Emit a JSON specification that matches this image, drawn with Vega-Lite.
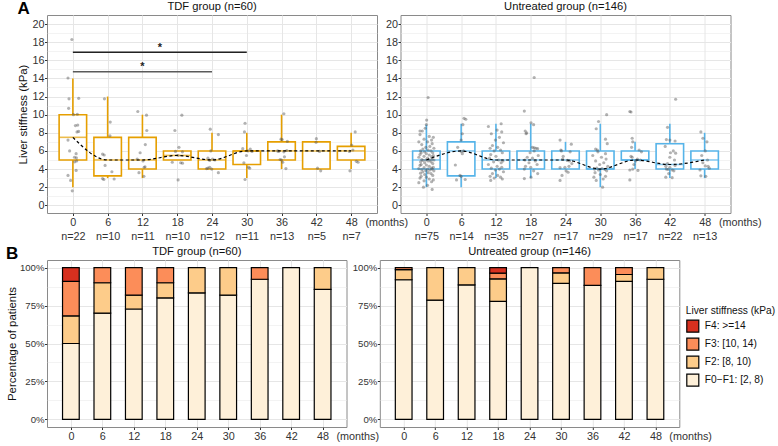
{
 "$schema": "https://vega.github.io/schema/vega-lite/v6.json",
 "autosize": {"type": "pad"},
 "padding": {"left": 5, "top": 0, "right": 0, "bottom": 0},
 "background": "white",
 "datasets": {
  "boxT": [
   {"t":0,"lo":2,"q1":5,"med":7.5,"q3":10,"hi":14},
   {"t":6,"lo":3,"q1":3.25,"med":5,"q3":7.5,"hi":12},
   {"t":12,"lo":3,"q1":4,"med":5,"q3":7.5,"hi":10},
   {"t":18,"lo":5,"q1":5,"med":5.5,"q3":6,"hi":6},
   {"t":24,"lo":4,"q1":4,"med":5,"q3":6,"hi":8},
   {"t":30,"lo":3,"q1":4.5,"med":6,"q3":6,"hi":8},
   {"t":36,"lo":4,"q1":5,"med":6,"q3":7,"hi":10},
   {"t":42,"lo":4,"q1":4,"med":6,"q3":7,"hi":7},
   {"t":48,"lo":4,"q1":5,"med":6,"q3":6.5,"hi":8}
  ],
  "boxU": [
   {"t":0,"lo":2,"q1":4,"med":5,"q3":6,"hi":8.9},
   {"t":6,"lo":2,"q1":3.25,"med":6,"q3":7,"hi":9},
   {"t":12,"lo":3,"q1":4,"med":5,"q3":6,"hi":9},
   {"t":18,"lo":3,"q1":4,"med":5,"q3":6,"hi":9},
   {"t":24,"lo":4,"q1":4,"med":5,"q3":6,"hi":7},
   {"t":30,"lo":2,"q1":4,"med":4,"q3":6,"hi":9},
   {"t":36,"lo":4,"q1":5,"med":5,"q3":6,"hi":7},
   {"t":42,"lo":3,"q1":4,"med":4.5,"q3":6.8,"hi":9},
   {"t":48,"lo":3,"q1":4,"med":5,"q3":6,"hi":8}
  ],
  "sig": [
   {"x0":0,"x1":30,"y":16.9,"sx":15,"sy":17.35,"lab":"*"},
   {"x0":0,"x1":24,"y":14.75,"sx":12,"sy":15.25,"lab":"*"}
  ],
  "ptsT": [
   {"t":-0.17,"v":18.3},{"t":-0.84,"v":14.05},{"t":1.0,"v":11.8},{"t":-0.67,"v":11.75},{"t":-0.73,"v":10.7},{"t":0.77,"v":10.05},{"t":0.1,"v":10.0},{"t":0.84,"v":8.85},{"t":0.44,"v":8.8},{"t":1.0,"v":8.15},{"t":0.72,"v":8.1},{"t":-0.84,"v":7.2},{"t":-0.56,"v":6.0},{"t":0.56,"v":5.7},{"t":0.28,"v":5.3},{"t":0.61,"v":5.25},{"t":0.66,"v":4.9},{"t":0.33,"v":4.8},{"t":0.56,"v":3.85},{"t":-0.84,"v":3.3},{"t":-0.39,"v":2.75},{"t":-0.11,"v":1.6},
   {"t":5.45,"v":11.75},{"t":6.45,"v":9.18},{"t":6.4,"v":7.67},{"t":5.12,"v":5.65},{"t":5.4,"v":5.55},{"t":5.56,"v":4.4},{"t":6.73,"v":3.7},{"t":5.12,"v":2.95},{"t":5.34,"v":2.85},{"t":7.12,"v":2.9},
   {"t":11.2,"v":10.35},{"t":12.7,"v":9.95},{"t":12.75,"v":8.25},{"t":12.5,"v":6.7},{"t":11.6,"v":5.8},{"t":11.1,"v":5.1},{"t":12.1,"v":4.9},{"t":12.45,"v":4.25},{"t":12.3,"v":4.2},{"t":11.4,"v":3.6},{"t":12.25,"v":3.2},
   {"t":18.8,"v":9.95},{"t":17.6,"v":8.25},{"t":18.3,"v":6.4},{"t":17.7,"v":5.95},{"t":18.9,"v":5.9},{"t":18.15,"v":5.5},{"t":17.15,"v":4.75},{"t":18.6,"v":4.7},{"t":18.9,"v":4.65},{"t":18.15,"v":2.8},
   {"t":23.7,"v":8.4},{"t":25.1,"v":7.8},{"t":23.8,"v":6.0},{"t":23.3,"v":5.2},{"t":24.1,"v":5.1},{"t":24.5,"v":5.0},{"t":23.6,"v":4.95},{"t":23.6,"v":4.2},{"t":23.3,"v":4.1},{"t":23.06,"v":4.05},{"t":23.95,"v":4.0},{"t":25.1,"v":3.6},
   {"t":29.7,"v":9.05},{"t":29.6,"v":8.1},{"t":29.3,"v":6.25},{"t":30.6,"v":6.2},{"t":30.2,"v":6.0},{"t":30.9,"v":5.95},{"t":29.95,"v":5.5},{"t":29.5,"v":4.7},{"t":30.3,"v":4.2},{"t":30.5,"v":4.1},{"t":29.7,"v":2.85},
   {"t":36.4,"v":10.1},{"t":35.9,"v":7.3},{"t":36.1,"v":7.25},{"t":37.0,"v":7.05},{"t":36.9,"v":6.05},{"t":35.3,"v":6.0},{"t":35.5,"v":5.95},{"t":36.4,"v":5.9},{"t":36.5,"v":5.35},{"t":35.75,"v":5.05},{"t":36.0,"v":5.0},{"t":36.2,"v":4.75},{"t":36.75,"v":4.05},
   {"t":42.0,"v":7.35},{"t":41.95,"v":6.95},{"t":42.55,"v":5.95},{"t":42.2,"v":4.1},{"t":42.75,"v":3.8},
   {"t":48.7,"v":8.1},{"t":48.1,"v":6.65},{"t":48.3,"v":6.1},{"t":47.7,"v":5.95},{"t":48.9,"v":4.85},{"t":49.2,"v":4.75},{"t":47.8,"v":3.8}
  ],
  "ptsU": [
   {"t":0.3,"v":11.9},{"t":0.05,"v":9.4},{"t":0.0,"v":8.9},{"t":-0.2,"v":8.5},{"t":-1.1,"v":8.2},{"t":-0.7,"v":8.2},
   {"t":-1.1,"v":7.8},{"t":0.5,"v":7.6},{"t":1.2,"v":7.5},{"t":-0.4,"v":7.3},{"t":0.9,"v":7.2},{"t":-1.3,"v":7.0},{"t":0.2,"v":7.0},{"t":1.0,"v":6.8},{"t":-0.8,"v":6.7},{"t":0.6,"v":6.5},{"t":-0.1,"v":6.4},{"t":1.3,"v":6.3},{"t":-0.6,"v":6.2},{"t":0.3,"v":6.1},{"t":-1.0,"v":6.0},{"t":0.8,"v":6.0},{"t":-0.3,"v":5.9},{"t":1.1,"v":5.8},{"t":-0.9,"v":5.8},{"t":0.0,"v":5.7},
   {"t":-1.1,"v":5.6},{"t":0.5,"v":5.55},{"t":1.2,"v":5.5},{"t":-0.4,"v":5.4},{"t":0.9,"v":5.35},{"t":-1.3,"v":5.3},{"t":0.2,"v":5.2},{"t":1.0,"v":5.1},{"t":-0.8,"v":5.05},{"t":0.6,"v":5.0},{"t":-0.1,"v":5.0},{"t":1.3,"v":5.0},{"t":-0.6,"v":4.95},{"t":0.3,"v":4.9},{"t":-1.0,"v":4.8},{"t":0.8,"v":4.8},{"t":-0.3,"v":4.7},{"t":1.1,"v":4.6},{"t":-0.9,"v":4.5},{"t":0.0,"v":4.45},
   {"t":-1.1,"v":4.4},{"t":0.5,"v":4.3},{"t":1.2,"v":4.2},{"t":-0.4,"v":4.15},{"t":0.9,"v":4.1},{"t":-1.3,"v":4.05},{"t":0.2,"v":4.0},{"t":1.0,"v":4.0},{"t":-0.8,"v":3.95},{"t":0.6,"v":3.9},{"t":-0.1,"v":3.85},{"t":1.3,"v":3.8},{"t":-0.6,"v":3.7},{"t":0.3,"v":3.6},{"t":-1.0,"v":3.55},{"t":0.8,"v":3.5},{"t":-0.3,"v":3.4},{"t":1.1,"v":3.3},{"t":-0.9,"v":3.2},{"t":0.0,"v":3.1},
   {"t":-1.1,"v":3.0},{"t":0.5,"v":2.9},{"t":1.2,"v":2.8},{"t":-0.4,"v":2.7},{"t":0.9,"v":2.6},{"t":-1.3,"v":2.5},{"t":0.2,"v":2.2},{"t":-0.5,"v":2.0},{"t":1.0,"v":1.75},
   {"t":6.5,"v":9.6},{"t":6.8,"v":9.5},{"t":6.3,"v":8.9},{"t":6.2,"v":7.9},{"t":6.0,"v":7.2},{"t":5.4,"v":6.4},{"t":6.4,"v":6.0},{"t":6.0,"v":5.95},{"t":6.2,"v":5.7},{"t":5.0,"v":4.45},{"t":5.8,"v":3.3},{"t":6.0,"v":3.2},{"t":6.7,"v":2.85},{"t":5.2,"v":2.8},
   {"t":12.9,"v":9.0},{"t":10.7,"v":8.7},{"t":12.2,"v":8.3},{"t":13.0,"v":8.1},{"t":11.2,"v":7.9},{"t":12.6,"v":7.5},{"t":11.9,"v":7.2},{"t":13.3,"v":6.9},{"t":11.4,"v":6.6},{"t":12.3,"v":6.4},{"t":11.0,"v":6.3},{"t":12.8,"v":6.1},{"t":11.7,"v":6.0},{"t":13.1,"v":5.8},{"t":11.1,"v":5.6},{"t":12.0,"v":5.4},{"t":10.9,"v":5.2},{"t":12.5,"v":5.0},{"t":13.2,"v":4.9},{"t":11.6,"v":4.8},{"t":12.9,"v":4.7},{"t":10.7,"v":4.5},{"t":12.2,"v":4.3},{"t":13.0,"v":4.2},{"t":11.2,"v":4.1},{"t":12.6,"v":4.0},{"t":11.9,"v":3.9},{"t":13.3,"v":3.7},{"t":11.4,"v":3.5},{"t":12.3,"v":3.3},{"t":11.0,"v":3.2},{"t":12.8,"v":3.1},{"t":11.7,"v":3.0},{"t":13.1,"v":2.9},{"t":11.1,"v":2.75},
   {"t":18.6,"v":14.1},{"t":16.9,"v":10.4},{"t":18.05,"v":9.1},{"t":18.5,"v":8.9},{"t":17.05,"v":8.2},{"t":17.3,"v":8.0},{"t":17.2,"v":7.9},{"t":18.3,"v":6.4},{"t":18.6,"v":6.35},{"t":18.9,"v":6.3},{"t":19.2,"v":6.25},{"t":18.6,"v":6.0},{"t":17.9,"v":5.8},{"t":19.3,"v":5.5},{"t":17.4,"v":5.3},{"t":18.3,"v":5.2},{"t":17.0,"v":5.0},{"t":18.8,"v":4.9},{"t":17.7,"v":4.7},{"t":19.1,"v":4.5},{"t":17.1,"v":4.3},{"t":18.0,"v":4.2},{"t":16.9,"v":4.0},{"t":18.5,"v":3.8},{"t":19.2,"v":3.5},{"t":18.05,"v":3.1},{"t":16.9,"v":2.95},
   {"t":23.06,"v":7.2},{"t":25.0,"v":6.75},{"t":23.2,"v":6.1},{"t":23.3,"v":6.0},{"t":24.8,"v":5.9},{"t":23.6,"v":5.4},{"t":23.5,"v":5.1},{"t":24.3,"v":4.95},{"t":24.7,"v":4.9},{"t":25.1,"v":4.6},{"t":24.6,"v":4.3},{"t":23.9,"v":4.2},{"t":23.06,"v":4.15},{"t":24.1,"v":3.8},{"t":24.45,"v":3.65},{"t":23.4,"v":3.3},{"t":23.06,"v":2.75},
   {"t":31.1,"v":10.0},{"t":29.7,"v":9.25},{"t":29.3,"v":8.45},{"t":30.9,"v":7.3},{"t":31.2,"v":6.8},{"t":29.2,"v":6.2},{"t":29.5,"v":6.1},{"t":29.6,"v":5.9},{"t":30.9,"v":5.7},{"t":28.7,"v":5.5},{"t":30.2,"v":5.3},{"t":31.0,"v":5.1},{"t":29.2,"v":4.9},{"t":30.6,"v":4.7},{"t":29.9,"v":4.5},{"t":31.3,"v":4.3},{"t":29.4,"v":4.1},{"t":30.3,"v":4.05},{"t":29.0,"v":4.0},{"t":30.8,"v":3.95},{"t":29.7,"v":3.9},{"t":31.1,"v":3.8},{"t":29.1,"v":3.6},{"t":30.0,"v":3.4},{"t":30.9,"v":3.2},{"t":28.9,"v":3.1},{"t":30.5,"v":2.9},{"t":29.3,"v":2.75},{"t":30.4,"v":2.0},
   {"t":35.1,"v":10.35},{"t":35.3,"v":10.3},{"t":35.5,"v":7.4},{"t":35.6,"v":7.0},{"t":35.4,"v":6.4},{"t":36.7,"v":6.1},{"t":37.1,"v":5.9},{"t":35.3,"v":5.4},{"t":35.5,"v":5.3},{"t":36.4,"v":5.1},{"t":36.9,"v":5.0},{"t":36.1,"v":4.9},{"t":35.8,"v":4.5},{"t":35.6,"v":4.0},{"t":35.1,"v":3.9},{"t":36.5,"v":3.85},{"t":35.1,"v":2.8},
   {"t":43.0,"v":11.7},{"t":41.6,"v":8.6},{"t":41.4,"v":7.25},{"t":42.0,"v":7.2},{"t":42.9,"v":7.1},{"t":41.2,"v":6.5},{"t":42.6,"v":6.0},{"t":42.1,"v":5.8},{"t":43.0,"v":5.75},{"t":42.0,"v":5.3},{"t":42.8,"v":5.0},{"t":41.6,"v":4.6},{"t":42.9,"v":4.4},{"t":41.3,"v":4.3},{"t":42.0,"v":4.2},{"t":41.4,"v":4.0},{"t":41.7,"v":3.95},{"t":42.4,"v":3.9},{"t":42.7,"v":3.8},{"t":41.8,"v":3.5},{"t":41.3,"v":3.1},{"t":42.4,"v":3.05},
   {"t":47.35,"v":8.1},{"t":47.7,"v":7.4},{"t":48.4,"v":7.0},{"t":48.1,"v":6.0},{"t":47.5,"v":5.5},{"t":48.5,"v":5.0},{"t":47.7,"v":4.7},{"t":48.1,"v":4.35},{"t":48.6,"v":4.3},{"t":48.8,"v":4.1},{"t":47.2,"v":3.9},{"t":47.35,"v":3.25},{"t":48.2,"v":3.2}
  ],
  "barT": [
   {"t":0,"c":"F0−F1: [2, 8)","n":11,"o":1},{"t":0,"c":"F2: [8, 10)","n":4,"o":2},{"t":0,"c":"F3: [10, 14)","n":5,"o":3},{"t":0,"c":"F4: >=14","n":2,"o":4},
   {"t":6,"c":"F0−F1: [2, 8)","n":7,"o":1},{"t":6,"c":"F2: [8, 10)","n":2,"o":2},{"t":6,"c":"F3: [10, 14)","n":1,"o":3},
   {"t":12,"c":"F0−F1: [2, 8)","n":8,"o":1},{"t":12,"c":"F2: [8, 10)","n":1,"o":2},{"t":12,"c":"F3: [10, 14)","n":2,"o":3},
   {"t":18,"c":"F0−F1: [2, 8)","n":8,"o":1},{"t":18,"c":"F2: [8, 10)","n":1,"o":2},{"t":18,"c":"F3: [10, 14)","n":1,"o":3},
   {"t":24,"c":"F0−F1: [2, 8)","n":10,"o":1},{"t":24,"c":"F2: [8, 10)","n":2,"o":2},
   {"t":30,"c":"F0−F1: [2, 8)","n":9,"o":1},{"t":30,"c":"F2: [8, 10)","n":2,"o":2},
   {"t":36,"c":"F0−F1: [2, 8)","n":12,"o":1},{"t":36,"c":"F3: [10, 14)","n":1,"o":3},
   {"t":42,"c":"F0−F1: [2, 8)","n":5,"o":1},
   {"t":48,"c":"F0−F1: [2, 8)","n":6,"o":1},{"t":48,"c":"F2: [8, 10)","n":1,"o":2}
  ],
  "barU": [
   {"t":0,"c":"F0−F1: [2, 8)","n":69,"o":1},{"t":0,"c":"F2: [8, 10)","n":5,"o":2},{"t":0,"c":"F3: [10, 14)","n":1,"o":3},
   {"t":6,"c":"F0−F1: [2, 8)","n":11,"o":1},{"t":6,"c":"F2: [8, 10)","n":3,"o":2},
   {"t":12,"c":"F0−F1: [2, 8)","n":31,"o":1},{"t":12,"c":"F2: [8, 10)","n":4,"o":2},
   {"t":18,"c":"F0−F1: [2, 8)","n":21,"o":1},{"t":18,"c":"F2: [8, 10)","n":4,"o":2},{"t":18,"c":"F3: [10, 14)","n":1,"o":3},{"t":18,"c":"F4: >=14","n":1,"o":4},
   {"t":24,"c":"F0−F1: [2, 8)","n":17,"o":1},
   {"t":30,"c":"F0−F1: [2, 8)","n":26,"o":1},{"t":30,"c":"F2: [8, 10)","n":2,"o":2},{"t":30,"c":"F3: [10, 14)","n":1,"o":3},
   {"t":36,"c":"F0−F1: [2, 8)","n":15,"o":1},{"t":36,"c":"F3: [10, 14)","n":2,"o":3},
   {"t":42,"c":"F0−F1: [2, 8)","n":20,"o":1},{"t":42,"c":"F2: [8, 10)","n":1,"o":2},{"t":42,"c":"F3: [10, 14)","n":1,"o":3},
   {"t":48,"c":"F0−F1: [2, 8)","n":12,"o":1},{"t":48,"c":"F2: [8, 10)","n":1,"o":2}
  ]
 },
 "spacing": 3,
 "vconcat": [
  {
   "title": {"text": "A", "anchor": "start", "frame": "bounds", "fontSize": 17, "fontWeight": "bold", "offset": -18, "color": "#000000"},
   "bounds": "flush",
   "spacing": 23.5,
   "hconcat": [
    {
     "width": 330, "height": 198,
     "title": "TDF group (n=60)",
     "layer": [
      {"data": {"name": "boxT"}, "mark": {"type": "rule", "color": "#E69F00", "strokeWidth": 1.6},
       "encoding": {
        "x": {"field": "t", "type": "quantitative", "scale": {"domain": [-3.6, 51.6], "nice": false, "zero": false},
              "axis": {"title": "(months)", "titleX": 318, "titleY": 3, "titleAlign": "left", "titleBaseline": "top", "titleFontSize": 10.8, "titleColor": "#333333",
                       "values": [0,6,12,18,24,30,36,42,48], "tickCount": 100, "format": "d", "labelExpr": "[datum.label, ['n=22','n=10','n=11','n=10','n=12','n=11','n=13','n=5','n=7'][datum.value/6]]",
                       "labelLineHeight": 14, "labelFlush": false, "labelOverlap": false}},
        "y": {"field": "lo", "type": "quantitative", "scale": {"domain": [-0.85, 21], "nice": false, "zero": false},
              "axis": {"title": "Liver stiffness (kPa)", "values": [0,1,2,3,4,5,6,7,8,9,10,11,12,13,14,15,16,17,18,19,20], "tickCount": 100, "format": "d",
                       "labelExpr": "datum.value % 2 == 0 ? datum.label : ''",
                       "gridWidth": {"condition": {"test": "datum.value % 2 == 1", "value": 0.5}, "value": 1},
                       "tickOpacity": {"condition": {"test": "datum.value % 2 == 1", "value": 0}, "value": 1},
                       "labelFlush": false, "labelOverlap": false}},
        "y2": {"field": "hi"}}},
      {"data": {"name": "boxT"}, "mark": {"type": "bar", "size": 27.5, "fill": "white", "stroke": "#E69F00", "strokeWidth": 1.6},
       "encoding": {"x": {"field": "t", "type": "quantitative"}, "y": {"field": "q1", "type": "quantitative"}, "y2": {"field": "q3"}}},
      {"data": {"name": "boxT"}, "mark": {"type": "tick", "orient": "horizontal", "size": 27.5, "thickness": 1.6, "color": "#E69F00"},
       "encoding": {"x": {"field": "t", "type": "quantitative"}, "y": {"field": "med", "type": "quantitative"}}},
      {"data": {"name": "ptsT"}, "mark": {"type": "circle", "size": 10, "color": "#555555", "opacity": 0.45},
       "encoding": {"x": {"field": "t", "type": "quantitative"}, "y": {"field": "v", "type": "quantitative"}}},
      {"data": {"name": "boxT"}, "mark": {"type": "line", "color": "#000000", "strokeWidth": 1.2, "strokeDash": [3, 2.5], "interpolate": "monotone"},
       "encoding": {"x": {"field": "t", "type": "quantitative"}, "y": {"field": "med", "type": "quantitative"}}},
      {"data": {"name": "sig"}, "mark": {"type": "rule", "strokeWidth": 1.5},
       "encoding": {"x": {"field": "x0", "type": "quantitative"}, "x2": {"field": "x1"}, "y": {"field": "y", "type": "quantitative"},
                    "color": {"condition": {"test": "datum.x1 == 30", "value": "#222222"}, "value": "#5a5a5a"}}},
      {"data": {"name": "sig"}, "mark": {"type": "text", "fontSize": 11, "fontWeight": "bold", "baseline": "middle", "color": "#222222"},
       "encoding": {"x": {"field": "sx", "type": "quantitative"}, "y": {"field": "sy", "type": "quantitative"}, "text": {"field": "lab"}}}
     ]
    },
    {
     "width": 330, "height": 198,
     "title": "Untreated group (n=146)",
     "layer": [
      {"data": {"name": "boxU"}, "mark": {"type": "rule", "color": "#56B4E9", "strokeWidth": 1.6},
       "encoding": {
        "x": {"field": "t", "type": "quantitative", "scale": {"domain": [-3.6, 51.6], "nice": false, "zero": false},
              "axis": {"title": "(months)", "titleX": 318, "titleY": 3, "titleAlign": "left", "titleBaseline": "top", "titleFontSize": 10.8, "titleColor": "#333333",
                       "values": [0,6,12,18,24,30,36,42,48], "tickCount": 100, "format": "d", "labelExpr": "[datum.label, ['n=75','n=14','n=35','n=27','n=17','n=29','n=17','n=22','n=13'][datum.value/6]]",
                       "labelLineHeight": 14, "labelFlush": false, "labelOverlap": false}},
        "y": {"field": "lo", "type": "quantitative", "scale": {"domain": [-0.85, 21], "nice": false, "zero": false},
              "axis": {"title": null, "values": [0,1,2,3,4,5,6,7,8,9,10,11,12,13,14,15,16,17,18,19,20], "tickCount": 100, "format": "d",
                       "labelExpr": "datum.value % 2 == 0 ? datum.label : ''",
                       "gridWidth": {"condition": {"test": "datum.value % 2 == 1", "value": 0.5}, "value": 1},
                       "tickOpacity": {"condition": {"test": "datum.value % 2 == 1", "value": 0}, "value": 1},
                       "labelFlush": false, "labelOverlap": false}},
        "y2": {"field": "hi"}}},
      {"data": {"name": "boxU"}, "mark": {"type": "bar", "size": 27.5, "fill": "white", "stroke": "#56B4E9", "strokeWidth": 1.6},
       "encoding": {"x": {"field": "t", "type": "quantitative"}, "y": {"field": "q1", "type": "quantitative"}, "y2": {"field": "q3"}}},
      {"data": {"name": "boxU"}, "mark": {"type": "tick", "orient": "horizontal", "size": 27.5, "thickness": 1.6, "color": "#56B4E9"},
       "encoding": {"x": {"field": "t", "type": "quantitative"}, "y": {"field": "med", "type": "quantitative"}}},
      {"data": {"name": "ptsU"}, "mark": {"type": "circle", "size": 10, "color": "#555555", "opacity": 0.45},
       "encoding": {"x": {"field": "t", "type": "quantitative"}, "y": {"field": "v", "type": "quantitative"}}},
      {"data": {"name": "boxU"}, "mark": {"type": "line", "color": "#000000", "strokeWidth": 1.2, "strokeDash": [3, 2.5], "interpolate": "monotone"},
       "encoding": {"x": {"field": "t", "type": "quantitative"}, "y": {"field": "med", "type": "quantitative"}}}
     ]
    }
   ]
  },
  {
   "title": {"text": "B", "anchor": "start", "frame": "bounds", "fontSize": 17, "fontWeight": "bold", "offset": -18, "color": "#000000"},
   "bounds": "flush",
   "spacing": 32.8,
   "resolve": {"scale": {"color": "independent"}, "legend": {"color": "independent"}},
   "hconcat": [
    {
     "width": 299.5, "height": 167,
     "title": "TDF group (n=60)",
     "data": {"name": "barT"},
     "mark": {"type": "bar", "size": 16.7, "stroke": "#000000", "strokeWidth": 1.2},
     "encoding": {
      "x": {"field": "t", "type": "quantitative", "scale": {"domain": [-3.6, 51.6], "nice": false, "zero": false},
            "axis": {"title": "(months)", "titleX": 289, "titleY": 3, "titleAlign": "left", "titleBaseline": "top", "titleFontSize": 10.8, "titleColor": "#333333",
                     "values": [0,6,12,18,24,30,36,42,48], "tickCount": 100, "format": "d", "labelFlush": false, "labelOverlap": false}},
      "y": {"field": "n", "type": "quantitative", "stack": "normalize", "scale": {"domain": [-0.05, 1.05], "nice": false, "zero": false},
            "axis": {"title": "Percentage of patients", "titlePadding": 2, "values": [0,0.125,0.25,0.375,0.5,0.625,0.75,0.875,1], "tickCount": 100,
                     "labelExpr": "(datum.value*8) % 2 == 0 ? format(datum.value, '.0%') : ''",
                     "gridWidth": {"condition": {"test": "(datum.value*8) % 2 == 1", "value": 0.5}, "value": 1},
                     "tickOpacity": {"condition": {"test": "(datum.value*8) % 2 == 1", "value": 0}, "value": 1},
                     "labelFontSize": 9.6, "labelFlush": false, "labelOverlap": false}},
      "color": {"field": "c", "type": "nominal",
                "scale": {"domain": ["F4: >=14", "F3: [10, 14)", "F2: [8, 10)", "F0−F1: [2, 8)"], "range": ["#D7301F", "#FC8D59", "#FDCC8A", "#FEF0D9"]},
                "legend": null},
      "order": {"field": "o", "type": "quantitative"}
     }
    },
    {
     "width": 299.5, "height": 167,
     "title": "Untreated group (n=146)",
     "data": {"name": "barU"},
     "mark": {"type": "bar", "size": 16.7, "stroke": "#000000", "strokeWidth": 1.2},
     "encoding": {
      "x": {"field": "t", "type": "quantitative", "scale": {"domain": [-3.6, 51.6], "nice": false, "zero": false},
            "axis": {"title": "(months)", "titleX": 289, "titleY": 3, "titleAlign": "left", "titleBaseline": "top", "titleFontSize": 10.8, "titleColor": "#333333",
                     "values": [0,6,12,18,24,30,36,42,48], "tickCount": 100, "format": "d", "labelFlush": false, "labelOverlap": false}},
      "y": {"field": "n", "type": "quantitative", "stack": "normalize", "scale": {"domain": [-0.05, 1.05], "nice": false, "zero": false},
            "axis": {"title": null, "values": [0,0.125,0.25,0.375,0.5,0.625,0.75,0.875,1], "tickCount": 100,
                     "labelExpr": "(datum.value*8) % 2 == 0 ? format(datum.value, '.0%') : ''",
                     "gridWidth": {"condition": {"test": "(datum.value*8) % 2 == 1", "value": 0.5}, "value": 1},
                     "tickOpacity": {"condition": {"test": "(datum.value*8) % 2 == 1", "value": 0}, "value": 1},
                     "labelFontSize": 9.6, "labelFlush": false, "labelOverlap": false}},
      "color": {"field": "c", "type": "nominal",
                "scale": {"domain": ["F4: >=14", "F3: [10, 14)", "F2: [8, 10)", "F0−F1: [2, 8)"], "range": ["#D7301F", "#FC8D59", "#FDCC8A", "#FEF0D9"]},
                "legend": {"title": "Liver stiffness (kPa)", "orient": "none", "legendX": 306, "legendY": 46, "direction": "vertical",
                           "symbolType": "square", "symbolSize": 144, "symbolStrokeColor": "#000000", "symbolStrokeWidth": 1.2, "symbolOpacity": 1,
                           "titleFontSize": 10.2, "titleFontWeight": "normal", "titleColor": "#111111", "titlePadding": 3,
                           "labelFontSize": 10.2, "labelColor": "#111111", "labelOffset": 5, "rowPadding": 0}},
      "order": {"field": "o", "type": "quantitative"}
     }
    }
   ]
  }
 ],
 "config": {
  "font": "Liberation Sans",
  "view": {"stroke": "#8a8a8a", "strokeWidth": 1},
  "axis": {"domain": false, "tickColor": "#333333", "tickSize": 2.5, "labelColor": "#333333", "labelFontSize": 10.8, "labelPadding": 0.5,
           "titleFontSize": 11.4, "titleFontWeight": "normal", "titleColor": "#111111", "gridColor": "#E6E6E6", "gridWidth": 1,
           "labelOverlap": false, "labelFlush": false},
  "axisY": {"titlePadding": 3},
  "title": {"fontSize": 11.2, "fontWeight": "normal", "color": "#111111", "offset": 3}
 }
}
